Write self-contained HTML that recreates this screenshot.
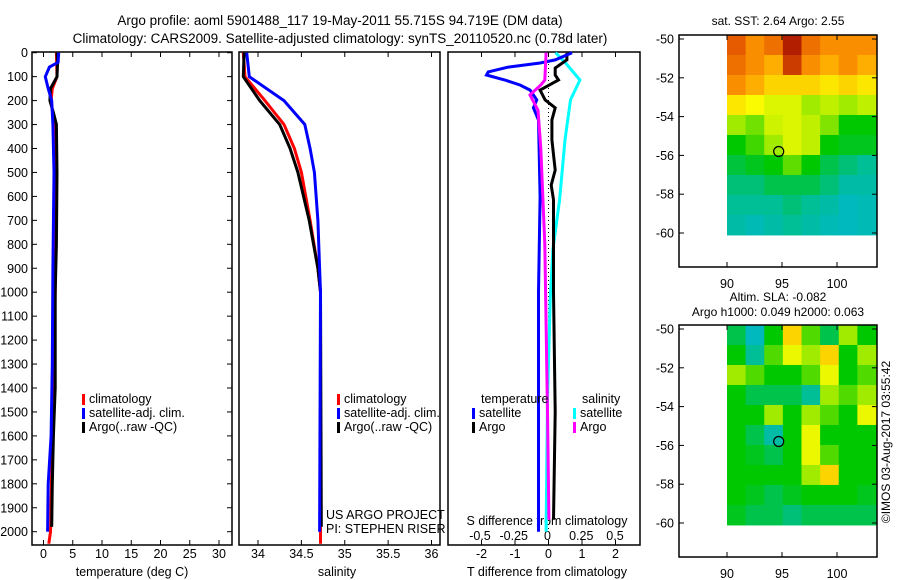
<!DOCTYPE html>
<html><head><meta charset="utf-8"><style>
body{margin:0;background:#fff;}
svg{display:block;font-family:"Liberation Sans",sans-serif;}
</style></head><body>
<svg id="fig" width="900" height="580" viewBox="0 0 900 580">
<text x="340" y="25" text-anchor="middle" font-size="13.5">Argo profile: aoml 5901488_117 19-May-2011 55.715S 94.719E (DM data)</text>
<text x="340" y="43" text-anchor="middle" font-size="13.5">Climatology: CARS2009. Satellite-adjusted climatology: synTS_20110520.nc (0.78d later)</text>
<g id="g"></g>
</svg>
<script>
// ---- data ----
const depthTicks=[0,100,200,300,400,500,600,700,800,900,1000,1100,1200,1300,1400,1500,1600,1700,1800,1900,2000];
const tempTicks=[0,5,10,15,20,25,30];
const salTicks=[34,34.5,35,35.5,36];
const salTickLabels=["34","34.5","35","35.5","36"];
const tdiffTicks=[-2,-1,0,1,2];
const sdiffTicks=[-0.5,-0.25,0,0.25,0.5];
const sdiffTickLabels=["-0.5","-0.25","0","0.25","0.5"];
const tempClim=[[0,2.2],[100,2.3],[150,1.5],[200,1.3],[300,1.8],[500,2.0],[1000,2.0],[1500,1.6],[2000,1.2],[2050,0.9]];
const tempArgo=[[0,2.3],[50,2.4],[100,2.3],[150,1.2],[200,1.1],[250,1.7],[300,2.2],[500,2.3],[800,2.2],[1000,2.0],[1400,2.0],[1600,1.7],[1800,1.5],[1980,1.4]];
const tempSat=[[0,2.6],[40,2.5],[60,1.0],[100,0.3],[150,0.8],[200,1.4],[300,1.6],[500,1.8],[900,1.6],[1300,1.5],[1600,1.3],[1800,0.8],[2000,0.7]];
const salClim=[[0,33.83],[100,33.85],[200,34.08],[300,34.3],[400,34.42],[500,34.5],[700,34.6],[900,34.69],[1000,34.72],[2050,34.72]];
const salArgo=[[0,33.84],[100,33.83],[200,34.02],[300,34.25],[400,34.37],[500,34.46],[700,34.59],[900,34.69],[1000,34.72],[1980,34.73]];
const salSat=[[0,33.87],[100,33.9],[200,34.3],[300,34.54],[400,34.6],[500,34.65],[700,34.69],[900,34.71],[1000,34.72],[2000,34.71]];
const tdiffSat=[[0,0.7],[30,0.2],[43,-0.25],[60,-1.2],[80,-1.8],[93,-1.85],[114,-1.3],[135,-0.85],[156,-0.55],[197,-0.35],[230,-0.45],[281,-0.3],[600,-0.25],[1000,-0.3],[1500,-0.3],[2000,-0.3]];
const tdiffArgo=[[0,0.55],[30,0.55],[64,0.2],[93,0.2],[114,0.3],[156,-0.25],[197,-0.1],[230,0.2],[281,0.1],[364,0.1],[490,0.2],[553,0.08],[614,0.15],[1000,0.15],[1500,0.2],[1950,0.15]];
const sdiffSat=[[0,0.06],[40,0.13],[114,0.24],[197,0.17],[364,0.13],[614,0.09],[820,0.04],[1030,0.02],[1450,0.0],[2000,-0.01]];
const sdiffArgo=[[0,-0.01],[114,-0.02],[135,-0.05],[176,-0.13],[197,-0.11],[240,-0.07],[400,-0.05],[800,-0.02],[1500,0.0],[1950,0.01]];
const latTicks=[-50,-52,-54,-56,-58,-60];
const lonTicks=[90,95,100];
const sstGrid=[
[0.85,0.78,0.82,0.95,0.82,0.78,0.78,0.78],
[0.82,0.78,0.74,0.9,0.78,0.74,0.78,0.74],
[0.78,0.74,0.7,0.7,0.7,0.68,0.7,0.68],
[0.68,0.66,0.64,0.64,0.6,0.62,0.6,0.62],
[0.6,0.57,0.63,0.64,0.62,0.58,0.5,0.5],
[0.5,0.54,0.6,0.64,0.62,0.5,0.48,0.48],
[0.46,0.48,0.5,0.56,0.5,0.45,0.42,0.4],
[0.42,0.42,0.45,0.45,0.45,0.42,0.38,0.38],
[0.4,0.4,0.4,0.42,0.4,0.38,0.35,0.36],
[0.38,0.36,0.38,0.4,0.38,0.36,0.35,0.36]];
const slaGrid=[
[0.45,0.35,0.5,0.7,0.55,0.45,0.6,0.5],
[0.5,0.4,0.55,0.65,0.6,0.7,0.5,0.6],
[0.6,0.55,0.5,0.5,0.55,0.65,0.5,0.55],
[0.5,0.45,0.45,0.45,0.4,0.6,0.55,0.6],
[0.5,0.5,0.6,0.5,0.6,0.55,0.5,0.65],
[0.5,0.45,0.38,0.5,0.65,0.5,0.5,0.5],
[0.5,0.48,0.45,0.5,0.65,0.55,0.5,0.5],
[0.5,0.5,0.5,0.5,0.6,0.7,0.5,0.5],
[0.5,0.48,0.45,0.48,0.5,0.5,0.5,0.48],
[0.48,0.45,0.45,0.42,0.45,0.45,0.45,0.45]];
const floatPos=[94.7,-55.8];

const NS="http://www.w3.org/2000/svg";
const G=document.getElementById('g');
function mk(t,a,p){const e=document.createElementNS(NS,t);for(const k in a)e.setAttribute(k,a[k]);(p||G).appendChild(e);return e;}
const yD=d=>52.7+d*0.2395;
const xT=v=>43.5+v*5.85;
const xS=v=>258+(v-34)*86.75;
const xTd=v=>548.5+v*33.5;
const xSd=v=>547.5+v*135;

function frame(x0,x1,y0,y1,name){const r=mk('rect',{x:x0,y:y0,width:x1-x0,height:y1-y0,fill:'none',stroke:'#000','stroke-width':1.5});}
function line(pts,fx,color,name,w){const d=pts.map((p,i)=>(i?'L':'M')+fx(p[1]).toFixed(1)+','+yD(p[0]).toFixed(1)).join('');const e=mk('path',{d:d,fill:'none',stroke:color,'stroke-width':w||3});}
function txt(x,y,s,anchor,size,name){const e=mk('text',{x:x,y:y,'text-anchor':anchor||'start','font-size':size||12.5});e.textContent=s;return e;}
function xticks(ticks,labels,fx,y0,y1,name,labY,top){ticks.forEach((t,i)=>{const x=fx(t);mk('line',{x1:x,x2:x,y1:y1,y2:y1-5,stroke:'#000'});if(top)mk('line',{x1:x,x2:x,y1:y0,y2:y0+5,stroke:'#000'});if(labels)txt(x,labY,labels[i],'middle',12.5,name);});}

const panels=[[32,232],[239,440],[448,640]];
panels.forEach((p,i)=>frame(p[0],p[1],52,545,'profile-panel-'+(i+1)));
depthTicks.forEach(d=>{const y=yD(d);mk('line',{x1:32,x2:37,y1:y,y2:y,stroke:'#000'});mk('line',{x1:227,x2:232,y1:y,y2:y,stroke:'#000'});txt(28,y+4.5,String(d),'end',12.5,'depth-tick-label');});
xticks(tempTicks,tempTicks.map(String),xT,52,545,'temp-tick-label',558,true);
xticks(salTicks,salTickLabels,xS,52,545,'sal-tick-label',558,true);
xticks(tdiffTicks,tdiffTicks.map(String),xTd,52,545,'tdiff-tick-label',558,true);
sdiffTicks.forEach((t,i)=>txt(xSd(t),540,sdiffTickLabels[i],'middle',12.5,'sdiff-tick-label'));
txt(132,576,'temperature (deg C)','middle',12.5,'temp-axis-title');
txt(337,576,'salinity','middle',12.5,'sal-axis-title');
txt(547,576,'T difference from climatology','middle',12.5,'tdiff-axis-title');
txt(547,525,'S difference from climatology','middle',12.5,'sdiff-axis-title');
{const e=mk('line',{x1:xTd(0),x2:xTd(0),y1:52,y2:yD(2000),stroke:'#000','stroke-dasharray':'1,3'});}

line(tempClim,xT,'#f00','temp-climatology-line');
line(tempArgo,xT,'#000','temp-argo-line');
line(tempSat,xT,'#00f','temp-satellite-line');
line(salClim,xS,'#f00','sal-climatology-line');
line(salArgo,xS,'#000','sal-argo-line');
line(salSat,xS,'#00f','sal-satellite-line');
line(sdiffSat,xSd,'#0ff','sdiff-satellite-line');
line(tdiffArgo,xTd,'#000','tdiff-argo-line');
line(tdiffSat,xTd,'#00f','tdiff-satellite-line');
line(sdiffArgo,xSd,'#f0f','sdiff-argo-line');

function legend(x,y,items,name){items.forEach((it,i)=>{const yy=y+i*14;mk('rect',{x:x,y:yy-9,width:3,height:11,fill:it[1]});txt(x+7,yy,it[0],'start',12.5,name);});}
legend(82,403,[['climatology','#f00'],['satellite-adj. clim.','#00f'],['Argo(..raw -QC)','#000']],'temp-legend-entry');
legend(337,403,[['climatology','#f00'],['satellite-adj. clim.','#00f'],['Argo(..raw -QC)','#000']],'sal-legend-entry');
txt(481,403,'temperature','start',12.5,'legend-temperature-header');
txt(582,403,'salinity','start',12.5,'legend-salinity-header');
legend(472,417,[['satellite','#00f'],['Argo','#000']],'tdiff-legend-entry');
legend(573,417,[['satellite','#0ff'],['Argo','#f0f']],'sdiff-legend-entry');
txt(326,519,'US ARGO PROJECT','start',12.5,'project-label');
txt(326,533,'PI: STEPHEN RISER','start',12.5,'pi-label');

// colormap resembling reference rendering
const stops=[[0,[0,0,255]],[0.3,[0,180,230]],[0.4,[0,190,150]],[0.5,[0,200,0]],[0.6,[160,235,0]],[0.66,[250,250,0]],[0.75,[255,165,0]],[0.85,[230,90,0]],[1,[150,0,0]]];
function cmap(v){for(let i=1;i<stops.length;i++){if(v<=stops[i][0]){const a=stops[i-1],b=stops[i],t=(v-a[0])/(b[0]-a[0]);return 'rgb('+a[1].map((c,k)=>Math.round(c+(b[1][k]-c)*t)).join(',')+')';}}return 'rgb(150,0,0)';}
function map(top,lat0y,grid,name){
  const yL=l=>lat0y+(-50-l)*19.4, xL=l=>727+(l-90)*11;
  const x0=727,x1=876,y0=top,y1=yL(-60.1);
  const cw=(x1-x0)/grid[0].length,ch=(y1-y0)/grid.length;
  grid.forEach((row,r)=>row.forEach((v,c)=>{const e=mk('rect',{x:x0+c*cw,y:y0+r*ch,width:cw+0.5,height:ch+0.5,fill:cmap(v)});}));
  frame(679,877,top,top+232,name+'-axes');
  latTicks.forEach(l=>{const y=yL(l);mk('line',{x1:679,x2:684,y1:y,y2:y,stroke:'#000'});mk('line',{x1:872,x2:877,y1:y,y2:y,stroke:'#000'});txt(674,y+4.5,String(l),'end',12.5,name+'-lat-label');});
  lonTicks.forEach(l=>{const x=xL(l);mk('line',{x1:x,x2:x,y1:top+232,y2:top+227,stroke:'#000'});mk('line',{x1:x,x2:x,y1:top,y2:top+5,stroke:'#000'});txt(x,top+253,String(l),'middle',12.5,name+'-lon-label');});
  const c=mk('circle',{cx:xL(floatPos[0]),cy:yL(floatPos[1]),r:5,fill:'none',stroke:'#000','stroke-width':1.2});
}
map(35,39,sstGrid,'sst-map');
map(325,329,slaGrid,'sla-map');
txt(778,25,'sat. SST: 2.64 Argo: 2.55','middle',12,'sst-map-title');
txt(778,301,'Altim. SLA: -0.082','middle',12,'sla-map-title-1');
txt(778,316,'Argo h1000: 0.049 h2000: 0.063','middle',12,'sla-map-title-2');
const cp=txt(0,0,'©IMOS 03-Aug-2017 03:55:42','middle',12,'copyright-label');
cp.setAttribute('transform','translate(890,442) rotate(-90)');
</script>
</body></html>
